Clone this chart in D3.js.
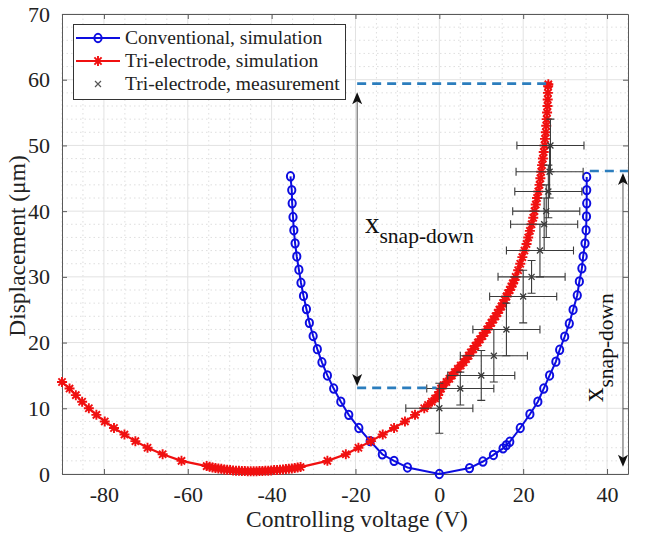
<!DOCTYPE html>
<html><head><meta charset="utf-8">
<script src="https://cdn.jsdelivr.net/npm/d3@7"></script>
<style>
html,body{margin:0;padding:0;background:#fff;}
svg{display:block;font-family:"Liberation Serif","Times New Roman",serif;}
</style></head>
<body><svg id="c" width="646" height="541"></svg>
<script>
// ---- data ----
const xTicks = [-80, -60, -40, -20, 0, 20, 40];
const yTicks = [0, 10, 20, 30, 40, 50, 60, 70];
const seriesNames = ["Conventional, simulation", "Tri-electrode, simulation", "Tri-electrode, measurement"];

// Conventional, simulation (voltage V, displacement um)
const convV = [-35.5,-35.2,-35.1,-34.9,-34.7,-34.4,-34.0,-33.5,-33.0,-32.4,-31.7,-31.0,-30.1,-29.1,-28.0,-26.7,-25.2,-23.5,-21.6,-19.2,-16.5,-13.6,-10.8,-7.6,0,
  7.2,10.4,12.9,15.2,16.0,16.8,19.3,21.6,23.5,24.9,26.3,27.8,28.7,29.9,31.0,31.9,32.9,33.4,34.0,34.3,34.75,35.0,35.1,35.15,35.15,35.15];
const convD = [45.3,43.2,41.2,39.1,37.1,35.1,33.1,31.1,29.1,27.1,25.1,23.0,21.0,19.0,17.0,15.0,13.0,11.0,9.0,7.0,5.0,3.0,2.0,1.0,0,
  0.9,1.9,2.9,3.9,4.4,4.9,7.0,9.1,11.0,13.0,15.0,17.1,18.9,20.9,22.9,25.0,27.2,29.3,31.3,33.1,35.1,37.1,39.2,41.2,43.2,45.2];

// Tri-electrode, simulation
const triV = [-90,-88.2,-86.7,-85.2,-83.6,-81.8,-79.8,-77.6,-75.1,-72.5,-69.6,-66.0,-61.5,
  -55.5,-54.8,-54.1,-53.4,-52.7,-52.0,-51.3,-50.6,-49.9,-49.2,-48.5,-47.8,-47.1,-46.4,-45.7,-45.0,-44.3,-43.6,-42.9,-42.2,-41.5,-40.8,-40.1,-39.4,-38.7,-38.0,-37.3,-36.6,-35.9,-35.2,-34.5,-33.8,-33.1,
  -26.7,-22.3,-19.3,-16.3,-13.5,-10.8,-8.2,-5.8,-3.6,-2.7,-1.8,-1.0,-0.3,0.0,0.4,1.0,1.7,2.4,3.0,3.7,4.4,5.1,5.8,6.4,7.0,7.5,8.1,8.6,9.2,9.7,10.3,10.8,11.4,11.9,12.4,12.9,13.4,13.9,14.3,14.8,15.2,15.6,16.0,16.4,16.8,17.2,17.5,17.9,18.2,18.8,19.3,19.8,20.3,20.8,21.2,21.6,22.0,22.4,22.7,23.0,23.3,23.6,23.9,24.1,24.3,24.5,24.7,24.9,25.1,25.2,25.4,25.5,25.6,25.7,25.8,25.85,25.9,25.95,26.0];
const triD = [14,13,12,11,10,9,8,7,6,5,4,3,2,
  1.2,1.1,1.0,0.9,0.85,0.8,0.7,0.65,0.6,0.55,0.5,0.5,0.45,0.45,0.4,0.4,0.4,0.4,0.45,0.45,0.5,0.5,0.55,0.6,0.6,0.65,0.7,0.75,0.8,0.85,0.9,1.0,1.05,
  2,3,4,5,6,7,8,9,10,10.5,11,11.5,12,12.5,13,13.5,14,14.5,15,15.5,16,16.5,17,17.5,18,18.5,19,19.5,20,20.5,21,21.5,22,22.5,23,23.5,24,24.5,25,25.5,26,26.5,27,27.5,28,28.5,29,29.5,30,31,32,33,34,35,36,37,38,39,40,41,42,43,44,45,46,47,48,49,50,51,52,53,54,55,56,57,58,59,59.3];

// Tri-electrode, measurement (with error bars)
const measV = [0, 5, 10, 13, 16, 20, 22, 24, 25, 25.5, 26, 26.3, 26.5];
const measD = [10, 13, 15, 18, 22, 27, 30, 34, 38, 40, 43, 46, 50];
const measErrV = [8, 8, 8, 8, 8, 8, 8, 8, 8, 8, 8, 8, 8];
const measErrD = [3.8, 2.5, 3.8, 4, 4, 4, 2.5, 4, 4, 4, 4, 4, 4];

// annotation levels
const snapLeftV = -19.6, snapLeftTop = 59.4, snapLeftBottom = 13.1, snapLeftEndTop = 25.7, snapLeftEndBottom = -0.7;
const snapRightV = 43.8, snapRightTop = 46.1, snapRightBottom = 0.8, snapRightStart = 35.9;

// ---- drawing ----
const svg = d3.select("#c");
const L = 62, R = 628, T = 14, B = 474;
const x = d3.scaleLinear().domain([-90, 45]).range([L, R]);
const y = d3.scaleLinear().domain([0, 70]).range([B, T]);

const axisCol = "#5a5a5a", textCol = "#222";
const g = svg.append("g");

// minor grid (dotted)
const xMinor = d3.range(-90, 45.01, 5).filter(v => !xTicks.includes(v));
const yMinor = d3.range(0, 70.01, 2).filter(v => !yTicks.includes(v));
g.selectAll(".xm").data(xMinor).join("line")
  .attr("x1", d => x(d)).attr("x2", d => x(d)).attr("y1", T).attr("y2", B)
  .attr("stroke", "#d6d6d6").attr("stroke-width", 0.8).attr("stroke-dasharray", "1.5,3");
g.selectAll(".ym").data(yMinor).join("line")
  .attr("y1", d => y(d)).attr("y2", d => y(d)).attr("x1", L).attr("x2", R)
  .attr("stroke", "#d6d6d6").attr("stroke-width", 0.8).attr("stroke-dasharray", "1.5,3");
// major grid
g.selectAll(".xg").data(xTicks).join("line")
  .attr("x1", d => x(d)).attr("x2", d => x(d)).attr("y1", T).attr("y2", B)
  .attr("stroke", "#e2e2e2").attr("stroke-width", 1);
g.selectAll(".yg").data(yTicks).join("line")
  .attr("y1", d => y(d)).attr("y2", d => y(d)).attr("x1", L).attr("x2", R)
  .attr("stroke", "#e2e2e2").attr("stroke-width", 1);

// axes
const ax = svg.append("g").attr("transform", `translate(0,${B})`)
  .call(d3.axisBottom(x).tickValues(xTicks).tickSizeInner(-5).tickSizeOuter(0).tickPadding(12).tickFormat(d3.format("d")));
const ay = svg.append("g").attr("transform", `translate(${L},0)`)
  .call(d3.axisLeft(y).tickValues(yTicks).tickSizeInner(-5).tickSizeOuter(0).tickPadding(12).tickFormat(d3.format("d")));
const axT = svg.append("g").attr("transform", `translate(0,${T})`)
  .call(d3.axisTop(x).tickValues(xTicks).tickSizeInner(-5).tickSizeOuter(0).tickFormat(""));
const ayR = svg.append("g").attr("transform", `translate(${R},0)`)
  .call(d3.axisRight(y).tickValues(yTicks).tickSizeInner(-5).tickSizeOuter(0).tickFormat(""));
[ax, ay, axT, ayR].forEach(a => {
  a.select(".domain").attr("stroke", axisCol);
  a.selectAll(".tick line").attr("stroke", axisCol);
  a.selectAll(".tick text").attr("fill", textCol).style("font-size", "22px")
    .style("font-family", '"Liberation Serif", serif');
});
ax.selectAll(".tick text").text(d => d < 0 ? "-" + Math.abs(d) : d);

// axis titles
svg.append("text").attr("x", 357).attr("y", 527).attr("text-anchor", "middle")
  .attr("fill", textCol).style("font-size", "23.5px").text("Controlling voltage (V)");
svg.append("text").attr("transform", "translate(25,246) rotate(-90)").attr("text-anchor", "middle")
  .attr("fill", textCol).style("font-size", "23.5px").text("Displacement (\u03bcm)");

// lines
const blue = "#0d0de0", red = "#f01010";
const convPts = convV.map((v, i) => [v, convD[i]]);
const triPts = triV.map((v, i) => [v, triD[i]]);
const lineGen = d3.line().x(d => x(d[0])).y(d => y(d[1]));

svg.append("path").datum(convPts).attr("d", lineGen).attr("fill", "none").attr("stroke", blue).attr("stroke-width", 2);
svg.append("g").selectAll("ellipse").data(convPts).join("ellipse")
  .attr("cx", d => x(d[0])).attr("cy", d => y(d[1])).attr("rx", 3.6).attr("ry", 4.2)
  .attr("fill", "none").attr("stroke", blue).attr("stroke-width", 2);

const starPath = r => { const k = 0.72 * r; return `M${-r},0L${r},0M0,${-r}L0,${r}M${-k},${-k}L${k},${k}M${-k},${k}L${k},${-k}`; };
svg.append("path").datum(triPts).attr("d", lineGen).attr("fill", "none").attr("stroke", red).attr("stroke-width", 2.2);
svg.append("g").selectAll("path").data(triPts).join("path")
  .attr("transform", d => `translate(${x(d[0])},${y(d[1])})`).attr("d", starPath(5))
  .attr("fill", "none").attr("stroke", red).attr("stroke-width", 1.9);

// measurements with error bars
const errCol = "#3a3a3a";
const mg = svg.append("g").attr("stroke", errCol).attr("stroke-width", 1.1).attr("fill", "none");
measV.forEach((v, i) => {
  const cx = x(v), cy = y(measD[i]);
  const x0 = x(v - measErrV[i]), x1 = x(v + measErrV[i]);
  const y0 = y(measD[i] - measErrD[i]), y1 = y(measD[i] + measErrD[i]);
  mg.append("path").attr("d", `M${x0},${cy}L${x1},${cy}M${x0},${cy - 4}L${x0},${cy + 4}M${x1},${cy - 4}L${x1},${cy + 4}`);
  mg.append("path").attr("d", `M${cx},${y0}L${cx},${y1}M${cx - 4},${y0}L${cx + 4},${y0}M${cx - 4},${y1}L${cx + 4},${y1}`);
  mg.append("path").attr("d", `M${cx - 3},${cy - 3}L${cx + 3},${cy + 3}M${cx - 3},${cy + 3}L${cx + 3},${cy - 3}`).attr("stroke-width", 1.3);
});

// annotations
const dashCol = "#2b7dbd";
const dash = (v0, v1, d) => svg.append("line").attr("x1", x(v0)).attr("x2", x(v1)).attr("y1", y(d)).attr("y2", y(d))
  .attr("stroke", dashCol).attr("stroke-width", 2.6).attr("stroke-dasharray", "9,6");
dash(snapLeftV, snapLeftEndTop, snapLeftTop);
dash(snapLeftV, snapLeftEndBottom, snapLeftBottom);
dash(snapRightStart, 45, snapRightTop);

const arrowHead = (px, py, up) => svg.append("path")
  .attr("d", up ? `M${px},${py}L${px - 5},${py + 12}L${px},${py + 9}L${px + 5},${py + 12}Z`
               : `M${px},${py}L${px - 5},${py - 12}L${px},${py - 9}L${px + 5},${py - 12}Z`)
  .attr("fill", "#111");
const dblArrow = (v, dTop, dBot) => {
  svg.append("line").attr("x1", x(v)).attr("x2", x(v)).attr("y1", y(dTop) + 6).attr("y2", y(dBot) - 6)
    .attr("stroke", "#555").attr("stroke-width", 1);
  arrowHead(x(v), y(dTop) + 2, true);
  arrowHead(x(v), y(dBot) - 2, false);
};
dblArrow(snapLeftV, snapLeftTop - 1, snapLeftBottom);
dblArrow(snapRightV, snapRightTop, snapRightBottom);

const lbl = svg.append("text").attr("x", 365).attr("y", 233).attr("fill", "#111");
lbl.append("tspan").style("font-size", "29px").text("x");
lbl.append("tspan").attr("dy", 10).style("font-size", "21.5px").text("snap-down");
const lbl2 = svg.append("text").attr("transform", "translate(603,402) rotate(-90)").attr("fill", "#111");
lbl2.append("tspan").style("font-size", "29px").text("x");
lbl2.append("tspan").attr("dy", 10).style("font-size", "21.5px").text("snap-down");

// legend
const lg = svg.append("g");
lg.append("rect").attr("x", 73.5).attr("y", 24.5).attr("width", 272).attr("height", 75)
  .attr("fill", "#fff").attr("stroke", "#333").attr("stroke-width", 1);
const rows = [38, 61, 84];
lg.append("line").attr("x1", 76).attr("x2", 120).attr("y1", rows[0]).attr("y2", rows[0]).attr("stroke", blue).attr("stroke-width", 2);
lg.append("ellipse").attr("cx", 98).attr("cy", rows[0]).attr("rx", 3.6).attr("ry", 4.2).attr("fill", "none").attr("stroke", blue).attr("stroke-width", 2);
lg.append("line").attr("x1", 76).attr("x2", 120).attr("y1", rows[1]).attr("y2", rows[1]).attr("stroke", red).attr("stroke-width", 2.2);
lg.append("path").attr("transform", `translate(98,${rows[1]})`).attr("d", starPath(5)).attr("fill", "none").attr("stroke", red).attr("stroke-width", 1.9);
lg.append("path").attr("d", `M95,${rows[2] - 3}L101,${rows[2] + 3}M95,${rows[2] + 3}L101,${rows[2] - 3}`).attr("stroke", "#555").attr("stroke-width", 1.2);
lg.selectAll("text").data(seriesNames).join("text")
  .attr("x", 125).attr("y", (d, i) => rows[i] + 6).attr("fill", textCol).style("font-size", "19.5px").text(d => d);
</script></body></html>
